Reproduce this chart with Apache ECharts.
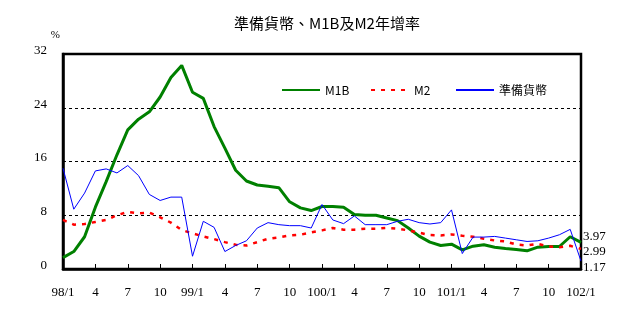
<!DOCTYPE html>
<html>
<head>
<meta charset="utf-8">
<script src="https://cdn.jsdelivr.net/npm/echarts@6/dist/echarts.min.js"></script>
<style>
  html, body { margin: 0; padding: 0; background: #fff; }
  #chart { width: 630px; height: 322px; }
</style>
</head>
<body>
<div id="chart"></div>
<script>
// Monthly periods, ROC year/month, 98/1 through 102/1
const months = [];
for (let y = 98; y <= 102; y++) {
  for (let m = 1; m <= 12; m++) {
    if (y === 102 && m > 1) break;
    months.push(y + '/' + m);
  }
}

// Annual growth rates (%)
const m1b = [
  1.7, 2.6, 4.8, 9.2, 13.0, 17.0, 20.7, 22.3, 23.4, 25.6, 28.5, 30.3,
  26.3, 25.4, 21.2, 18.0, 14.7, 13.1, 12.5, 12.3, 12.1, 10.0, 9.1, 8.7,
  9.3, 9.3, 9.2, 8.1, 8.0, 8.0, 7.6, 7.2, 6.1, 4.9, 4.0, 3.5,
  3.7, 2.85, 3.4, 3.6, 3.25, 3.05, 2.9, 2.7, 3.25, 3.35, 3.35, 4.8,
  3.97
];
const m2 = [
  7.3, 6.6, 6.7, 7.0, 7.3, 8.0, 8.5, 8.3, 8.4, 7.7, 6.9, 5.8,
  5.3, 4.85, 4.45, 4.0, 3.6, 3.5, 4.0, 4.5, 4.7, 5.0, 5.1, 5.45,
  5.75, 6.1, 5.85, 5.85, 6.0, 6.0, 6.1, 6.0, 5.75, 5.4, 5.05, 5.0,
  5.15, 4.95, 4.8, 4.5, 4.25, 4.1, 3.65, 3.5, 3.75, 3.35, 3.25, 3.45,
  2.99
];
const reserveMoney = [
  15.0, 8.9, 11.3, 14.6, 14.9, 14.3, 15.4, 13.9, 11.1, 10.2, 10.7, 10.7,
  1.9, 7.1, 6.2, 2.6, 3.5, 4.2, 6.1, 6.9, 6.6, 6.45, 6.45, 6.1,
  9.6, 7.3, 6.75, 7.9, 6.6, 6.6, 6.6, 7.1, 7.4, 6.9, 6.7, 6.9,
  8.8, 2.3, 4.75, 4.75, 4.85, 4.6, 4.35, 4.1, 4.2, 4.6, 5.1, 5.9,
  1.17
];
const yTicks = [0, 8, 16, 24, 32];

const numFont = 'Liberation Serif, DejaVu Serif, serif';
const cjkFont = 'Noto Sans CJK TC, Noto Sans CJK SC, sans-serif';

// One legend block per series so each entry sits at its own spot
function legendAt(name, left) {
  return {
    data: [name],
    left: left,
    top: 79,
    itemWidth: 38,
    itemHeight: 14,
    itemGap: 4,
    itemStyle: { opacity: 0 },
    textStyle: { fontFamily: cjkFont, fontSize: 12, color: '#000' },
    selectedMode: false
  };
}

const endLabel = function (dy) {
  return {
    show: true, distance: 2, offset: [0, dy],
    formatter: function (p) { return p.value.toFixed(2); },
    fontFamily: numFont, fontSize: 13, color: '#000'
  };
};

const chart = echarts.init(document.getElementById('chart'), null, { renderer: 'canvas' });
chart.setOption({
  animation: false,
  backgroundColor: '#fff',
  title: {
    text: '準備貨幣、M1B及M2年增率',
    left: 322,
    textAlign: 'center',
    top: 11,
    textStyle: { fontFamily: cjkFont, fontSize: 15, fontWeight: 'normal', color: '#000' }
  },
  legend: [
    legendAt('M1B', 276),
    legendAt('M2', 365),
    legendAt('準備貨幣', 450)
  ],
  grid: {
    left: 63, right: 49, top: 54, bottom: 53,
    show: true, borderColor: '#000', borderWidth: 2.5, backgroundColor: 'transparent'
  },
  xAxis: {
    type: 'category',
    data: months,
    boundaryGap: false,
    axisLine: { lineStyle: { color: '#000', width: 2.5 } },
    axisTick: { inside: true, length: 5, interval: 2, lineStyle: { color: '#000', width: 1 } },
    axisLabel: {
      interval: 2,
      margin: 17,
      fontFamily: numFont,
      fontSize: 13,
      color: '#000',
      formatter: function (v) {
        const p = v.split('/');
        return p[1] === '1' ? v : p[1];
      }
    },
    splitLine: { show: false }
  },
  yAxis: {
    type: 'value',
    name: '%',
    nameLocation: 'end',
    nameGap: 13,
    nameTextStyle: { fontFamily: numFont, fontSize: 11, color: '#000', align: 'right', padding: [0, 3, 0, 0] },
    min: yTicks[0],
    max: yTicks[yTicks.length - 1],
    interval: 8,
    axisLine: { show: true, lineStyle: { color: '#000', width: 2.5 } },
    axisTick: { show: false },
    axisLabel: {
      margin: 16,
      fontFamily: numFont,
      fontSize: 13,
      color: '#000',
      verticalAlign: 'bottom',
      padding: [0, 0, -3, 0]
    },
    splitLine: { show: true, lineStyle: { color: '#000', type: [3, 3], width: 1 } }
  },
  series: [
    {
      name: 'M1B',
      type: 'line',
      data: m1b,
      symbol: 'none',
      color: '#008000',
      lineStyle: { color: '#008000', width: 3 },
      endLabel: endLabel(-6)
    },
    {
      name: 'M2',
      type: 'line',
      data: m2,
      symbol: 'none',
      color: '#ff0000',
      lineStyle: { color: '#ff0000', width: 2.5, type: [4, 6] },
      endLabel: endLabel(3)
    },
    {
      name: '準備貨幣',
      type: 'line',
      data: reserveMoney,
      symbol: 'none',
      color: '#0000ff',
      lineStyle: { color: '#0000ff', width: 1 },
      endLabel: endLabel(6)
    }
  ]
});
</script>
</body>
</html>
